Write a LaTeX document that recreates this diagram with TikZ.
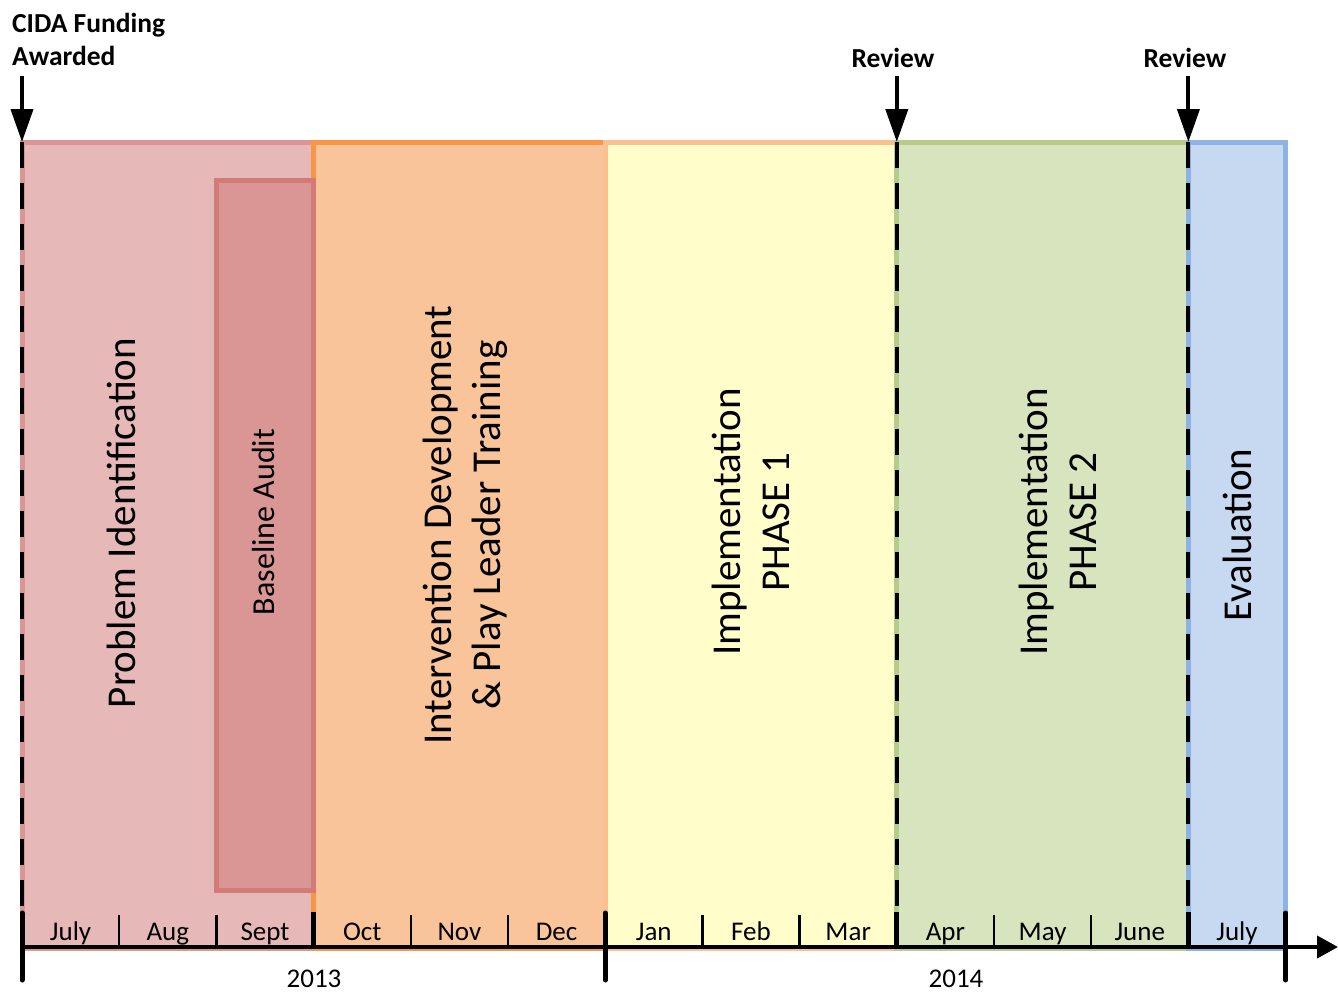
\documentclass[tikz,border=0pt]{standalone}
\usepackage{fontspec}
\setmainfont{Carlito}
\usetikzlibrary{arrows.meta}
\definecolor{piFill}{HTML}{E6B9B8}
\definecolor{piLine}{HTML}{D99694}
\definecolor{baFill}{HTML}{D99694}
\definecolor{baLine}{HTML}{D27B77}
\definecolor{idFill}{HTML}{F9C49A}
\definecolor{idLine}{HTML}{F79646}
\definecolor{pOneFill}{HTML}{FFFDCA}
\definecolor{pOneLine}{HTML}{FAC090}
\definecolor{pTwoFill}{HTML}{D7E4BD}
\definecolor{pTwoLine}{HTML}{B7CC8B}
\definecolor{evFill}{HTML}{C6D9F1}
\definecolor{evLine}{HTML}{8DB3E2}
\tikzset{
  phasebox/.style={draw, line width=5pt, inner sep=0pt, outer sep=0pt, anchor=north west, minimum height=806pt},
  bigtext/.style={rotate=90, font=\fontsize{41}{49}\selectfont, align=center, inner sep=0pt},
  audittext/.style={rotate=90, font=\fontsize{32}{38}\selectfont, inner sep=0pt},
  toplabel/.style={font=\bfseries\fontsize{27.5}{33}\selectfont, inner sep=0pt},
  monthlabel/.style={font=\fontsize{27}{30}\selectfont, inner sep=0pt, anchor=base},
  milestone/.style={line width=4pt, -{Triangle[length=33pt,width=22pt]}},
  reviewline/.style={line width=4pt, dash pattern=on 26pt off 15pt},
  monthtick/.style={line width=2.5pt},
  qtick/.style={line width=5pt},
  ytick/.style={line width=5pt, line cap=round},
  axisline/.style={line width=4pt, -{Triangle[length=21pt,width=22pt]}}
}
\begin{document}
\begin{tikzpicture}[x=1pt,y=-1pt]
\useasboundingbox (0,0) rectangle (1338,993);
% phase boxes
\node[phasebox, fill=piFill, draw=piLine, minimum width=291.6pt] (pi) at (22,142) {};
\node[phasebox, fill=idFill, draw=idLine, minimum width=291.6pt] (id) at (313.6,142) {};
\node[draw=baLine, fill=baFill, line width=5pt, inner sep=0pt, outer sep=0pt, anchor=north west, minimum width=97.2pt, minimum height=710pt] (ba) at (216.4,180) {};
\node[phasebox, fill=pOneFill, draw=pOneLine, minimum width=291.6pt] (pone) at (605.2,142) {};
\node[phasebox, fill=pTwoFill, draw=pTwoLine, minimum width=291.6pt] (ptwo) at (896.8,142) {};
\node[phasebox, fill=evFill, draw=evLine, minimum width=97.2pt] (ev) at (1188.4,142) {};
% box texts
\node[bigtext] (tpi) at (121,523) {Problem Identification};
\node[audittext] (tba) at (264,522) {Baseline Audit};
\node[bigtext] (tid) at (465,525) {Intervention Development\\\& Play Leader Training};
\node[bigtext] (tpone) at (751,522) {Implementation\\PHASE 1};
\node[bigtext] (tptwo) at (1058,522) {Implementation\\PHASE 2};
\node[bigtext] (tev) at (1237,535) {Evaluation};
% dashed milestone lines
\coordinate (d0t) at (22,142);      \coordinate (d0b) at (22,910);
\coordinate (d1t) at (896.8,142);   \coordinate (d1b) at (896.8,910);
\coordinate (d2t) at (1188.4,142);  \coordinate (d2b) at (1188.4,910);
\draw[reviewline] (d0t) -- (d0b);
\draw[reviewline] (d1t) -- (d1b);
\draw[reviewline] (d2t) -- (d2b);
% milestone arrows and labels
\node[toplabel, anchor=west, align=left] (cida) at (12,39) {CIDA Funding\\Awarded};
\node[toplabel] (rev1) at (893,58) {Review};
\node[toplabel] (rev2) at (1185,58) {Review};
\coordinate (a0) at (22,76);
\coordinate (a1) at (896.8,76);
\coordinate (a2) at (1188.4,76);
\draw[milestone] (a0) -- (d0t);
\draw[milestone] (a1) -- (d1t);
\draw[milestone] (a2) -- (d2t);
% axis
\coordinate (axs) at (22,947);
\coordinate (axe) at (1338,947);
\draw[axisline] (axs) -- (axe);
\foreach \k in {1,2,4,5,7,8,10,11}{
  \draw[monthtick] (22+97.2*\k,915) -- (22+97.2*\k,947);
}
\foreach \k in {3,9,12}{
  \draw[qtick] (22+97.2*\k,912) -- (22+97.2*\k,947);
}
\foreach \k in {0,6,13}{
  \draw[ytick] (22+97.2*\k,913) -- (22+97.2*\k,980);
}
\foreach \m [count=\i from 0] in {July,Aug,Sept,Oct,Nov,Dec,Jan,Feb,Mar,Apr,May,June,July}{
  \node[monthlabel] (m\i) at (22+97.2*\i+48.6,940) {\m};
}
\node[monthlabel] (y2013) at (314,987) {2013};
\node[monthlabel] (y2014) at (956,987) {2014};
\end{tikzpicture}
\end{document}
